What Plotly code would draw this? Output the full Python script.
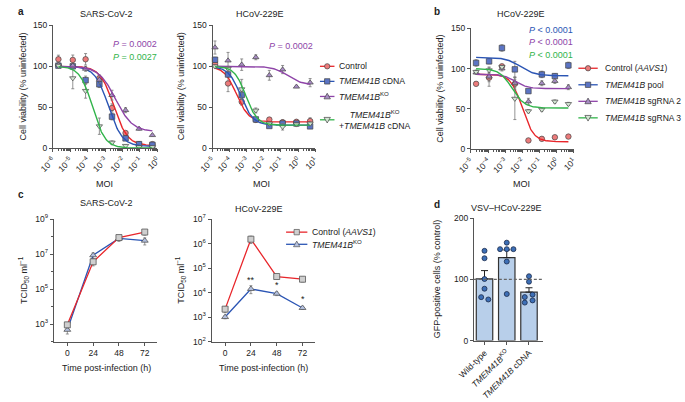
import numpy as np
import plotly.graph_objects as go

W, H = 685, 402
FONT = "Liberation Sans, Arial, sans-serif"

RED, BLUE, PURPLE, GREEN = "#e8262b", "#2b55b4", "#8e44a8", "#32b44b"
INK = "#222222"
AXIS = "#555555"

# ---------- a (left): SARS-CoV-2 dose response ----------
moi_a1 = [2.1e-6, 1.4e-5, 7.6e-5, 4.7e-4, 2.5e-3, 1.5e-2, 8.9e-2, 5.2e-1]
a1_ctrl = [108.6, 107.8, 108.6, 85.5, 49.0, 18.4, 4.7, 4.7]
a1_cdna = [100.8, 100.0, 83.0, 78.0, 38.4, 11.8, 4.7, 3.9]
a1_ko = [102.0, 100.8, 96.9, 83.5, 64.7, 46.3, 23.5, 15.7]
a1_resc = [100.8, 85.5, 70.0, 26.7, 6.7, 2.7, 1.2, 1.2]
a1_ctrl_err = [5, 6, 7, 4, 5, 2, 1.5, 1.5]
a1_cdna_err = [2, 2, 5, 4, 4, 2, 1, 1]
a1_ko_err = [2, 2, 3, 5, 6, 3, 1.5, 1]
a1_resc_err = [2, 13, 9, 10, 2, 1, 1, 1]
# fit parameters: top, bottom, log10 EC50, hill slope
a1_ctrl_fit = [100, 3, -2.5, 1.1]
a1_cdna_fit = [100, 2, -2.8, 1.1]
a1_ko_fit = [100, 20, -2.4, 0.9]
a1_resc_fit = [100, 0, -3.72, 1.2]

# ---------- a (right): HCoV-229E dose response ----------
moi_a2 = [1.4e-5, 8.1e-5, 5.1e-4, 3.4e-3, 2.1e-2, 1.26e-1, 8.1e-1, 5.1]
a2_ctrl = [103.6, 79.0, 56.5, 34.4, 34.8, 31.5, 32.0, 33.0]
a2_cdna = [108.0, 90.0, 65.0, 35.0, 27.0, 30.0, 30.0, 26.5]
a2_ko = [123.0, 107.0, 102.0, 111.0, 89.0, 96.0, 75.0, 80.0]
a2_resc = [100.0, 97.0, 72.0, 46.0, 30.0, 26.0, 29.0, 30.0]
a2_ctrl_err = [2, 10, 4, 2, 2, 3, 3, 4]
a2_cdna_err = [3, 3, 4, 2, 2, 2, 2, 2]
a2_ko_err = [8, 10, 7, 3, 6, 5, 1, 5]
a2_resc_err = [2, 3, 12, 3, 2, 4, 2, 2]
a2_ctrl_fit = [100, 32, -3.6, 1.2]
a2_cdna_fit = [100, 28, -3.35, 1.2]
a2_ko_fit = [100, 77, -0.6, 1.0]
a2_resc_fit = [100, 28, -3.05, 1.3]

# ---------- b: HCoV-229E, sgRNA lines ----------
moi_b = [2.0e-5, 1.15e-4, 6.5e-4, 3.7e-3, 2.3e-2, 1.4e-1, 8.1e-1, 5.0]
b_ctrl = [81.0, 88.6, 102.8, 81.0, 10.6, 12.6, 14.6, 15.4]
b_pool = [107.0, 109.0, 125.6, 99.0, 72.0, 92.7, 90.6, 104.0]
b_sg2 = [95.0, 90.0, 100.0, 81.7, 59.0, 81.7, 84.5, 76.8]
b_sg3 = [96.0, 98.0, 102.0, 62.6, 47.0, 49.0, 59.0, 56.0]
b_ctrl_err = [1, 5, 2, 5, 1, 1, 1, 1]
b_pool_err = [4, 3, 4, 10, 2, 4, 3, 4]
b_sg2_err = [2, 12, 3, 8, 4, 3, 3, 3]
b_sg3_err = [2, 3, 2, 26, 2, 2, 2, 2]
b_ctrl_fit = [93, 9, -2.0, 1.3]
b_pool_fit = [114, 91, -2.1, 1.0]
b_sg2_fit = [93, 75, -2.4, 1.2]
b_sg3_fit = [100, 51, -2.6, 1.2]

# ---------- c: growth curves ----------
hours = [0, 24, 48, 72]
c1_ctrl = [900, 3.6e6, 8.7e7, 1.8e8]
c1_ko = [470, 8.5e6, 7.8e7, 5.8e7]
c1_ctrl_err = [300, 1.5e6, 2.5e7, 6e7]
c1_ko_err = [200, 3e6, 2.5e7, 2.5e7]
c2_ctrl = [2100, 1.5e6, 4.5e4, 3.5e4]
c2_ko = [1000, 1.4e4, 9000, 2350]
c2_ctrl_err = [600, 5e5, 5e3, 8e3]
c2_ko_err = [150, 5e3, 1.5e3, 300]
c2_sig = ["", "**", "*", "*"]

# ---------- d: VSV-HCoV-229E ----------
d_labels = ["Wild-type", "<i>TMEM41B</i><sup>KO</sup>", "<i>TMEM41B</i> cDNA"]
d_wt = [146.5, 134.4, 100.5, 84.6, 70.9, 67.1]
d_ko = [159.8, 149.2, 149.2, 149.2, 129.0, 76.0]
d_cdna = [105.0, 96.0, 71.0, 75.0, 62.0, 65.6]
# horizontal spread of the dots inside each bar
d_wt_dx = [0, 0, 0, 0, -0.15, 0.17]
d_ko_dx = [0, -0.3, 0, 0.3, 0, 0]
d_cdna_dx = [0, 0, -0.19, 0.16, -0.19, 0.16]


def dom_x(a, b):
    return [a / W, b / W]


def dom_y(top, bottom):
    return [1 - bottom / H, 1 - top / H]


def sup(k):
    return f"10<sup>{str(k).replace('-', '−')}</sup>"


def ax_name(n):
    return "" if n == 1 else str(n)


fig = go.Figure()
shapes = []
ann = []


def txt(x, y, text, size=9, color=INK, angle=0, xanchor="center", bold=False):
    return dict(x=x / W, y=1 - y / H, xref="paper", yref="paper",
                text=f"<b>{text}</b>" if bold else text,
                showarrow=False, textangle=angle, xanchor=xanchor, yanchor="middle",
                font=dict(size=size, color=color, family=FONT))


def legend_entry(x0, x1, y, xt, label, color, symbol, fill, edge="#444", size=5.5, fs=8.7):
    # hand-placed legend key: short line, marker, label
    shapes.append(dict(type="line", xref="paper", yref="paper", x0=x0 / W, x1=x1 / W,
                       y0=1 - y / H, y1=1 - y / H, line=dict(color=color, width=1.3)))
    xc, r = (x0 + x1) / 2, size / 2
    box = dict(xref="paper", yref="paper", fillcolor=fill, line=dict(color=edge, width=0.7))
    if symbol in ("circle", "square"):
        shapes.append(dict(type="circle" if symbol == "circle" else "rect",
                           x0=(xc - r) / W, x1=(xc + r) / W,
                           y0=1 - (y + r) / H, y1=1 - (y - r) / H, **box))
    else:
        s = 1 if symbol == "triangle-up" else -1
        pts = [(xc, y - s * r * 1.2), (xc + r * 1.2, y + s * r * 0.9), (xc - r * 1.2, y + s * r * 0.9)]
        path = "M " + " L ".join(f"{px / W:.5f},{1 - py / H:.5f}" for px, py in pts) + " Z"
        shapes.append(dict(type="path", path=path, **box))
    ann.append(txt(xt, y, label, fs, xanchor="left"))


def add_dose(n, moi, vals, errs, fit, color, fill, symbol):
    a = ax_name(n)
    top, bottom, logec, slope = fit
    cx = np.logspace(np.log10(moi[0]), np.log10(moi[-1]), 150)
    cy = bottom + (top - bottom) / (1 + 10 ** (slope * (np.log10(cx) - logec)))
    mk = dict(symbol=symbol, size=5.5, color=fill, line=dict(color="#444", width=0.7))
    fig.add_trace(go.Scatter(
        x=moi, y=vals, mode="markers", marker=mk, cliponaxis=False,
        error_y=dict(type="data", array=errs, color="#777", thickness=0.8, width=1.5),
        xaxis="x" + a, yaxis="y" + a, hoverinfo="skip"))
    fig.add_trace(go.Scatter(
        x=cx, y=cy, mode="lines", line=dict(color=color, width=1.4),
        xaxis="x" + a, yaxis="y" + a, hoverinfo="skip"))


RF, BF, PF, GF = "#ec7b7b", "#5b74c4", "#a88cc4", "#d3e6d3"

add_dose(1, moi_a1, a1_ctrl, a1_ctrl_err, a1_ctrl_fit, RED, RF, "circle")
add_dose(1, moi_a1, a1_cdna, a1_cdna_err, a1_cdna_fit, BLUE, BF, "square")
add_dose(1, moi_a1, a1_ko, a1_ko_err, a1_ko_fit, PURPLE, PF, "triangle-up")
add_dose(1, moi_a1, a1_resc, a1_resc_err, a1_resc_fit, GREEN, GF, "triangle-down")

add_dose(2, moi_a2, a2_ctrl, a2_ctrl_err, a2_ctrl_fit, RED, RF, "circle")
add_dose(2, moi_a2, a2_cdna, a2_cdna_err, a2_cdna_fit, BLUE, BF, "square")
add_dose(2, moi_a2, a2_ko, a2_ko_err, a2_ko_fit, PURPLE, PF, "triangle-up")
add_dose(2, moi_a2, a2_resc, a2_resc_err, a2_resc_fit, GREEN, GF, "triangle-down")

add_dose(3, moi_b, b_ctrl, b_ctrl_err, b_ctrl_fit, RED, RF, "circle")
add_dose(3, moi_b, b_pool, b_pool_err, b_pool_fit, BLUE, BF, "square")
add_dose(3, moi_b, b_sg2, b_sg2_err, b_sg2_fit, PURPLE, PF, "triangle-up")
add_dose(3, moi_b, b_sg3, b_sg3_err, b_sg3_fit, GREEN, GF, "triangle-down")

legend_entry(313, 328, 62, 331, "Control", RED, "circle", RF)
legend_entry(313, 328, 77.5, 331, "<i>TMEM41B</i> cDNA", BLUE, "square", BF)
legend_entry(313, 328, 93, 331, "<i>TMEM41B</i><sup>KO</sup>", PURPLE, "triangle-up", PF)
legend_entry(313, 328, 117, 331, "<i>TMEM41B</i><sup>KO</sup><br>+<i>TMEM41B</i> cDNA",
             GREEN, "triangle-down", GF)

legend_entry(580, 600, 64, 605, "Control (<i>AAVS1</i>)", RED, "circle", RF, fs=8.5)
legend_entry(580, 600, 81, 605, "<i>TMEM41B</i> pool", BLUE, "square", BF, fs=8.5)
legend_entry(580, 600, 98, 605, "<i>TMEM41B</i> sgRNA 2", PURPLE, "triangle-up", PF, fs=8.5)
legend_entry(580, 600, 115, 605, "<i>TMEM41B</i> sgRNA 3", GREEN, "triangle-down", GF, fs=8.5)

CF_R, CF_B = "#cfcfcf", "#b3c0e0"


def add_growth(n, vals, errs, color, fill, symbol):
    a = ax_name(n)
    fig.add_trace(go.Scatter(
        x=hours, y=vals, mode="lines+markers", cliponaxis=False,
        line=dict(color=color, width=1.3),
        marker=dict(symbol=symbol, size=6, color=fill, line=dict(color="#555", width=0.8)),
        error_y=dict(type="data", array=errs, color="#777", thickness=0.8, width=1.5),
        xaxis="x" + a, yaxis="y" + a, hoverinfo="skip"))


add_growth(4, c1_ko, c1_ko_err, BLUE, CF_B, "triangle-up")
add_growth(4, c1_ctrl, c1_ctrl_err, RED, CF_R, "square")
add_growth(5, c2_ctrl, c2_ctrl_err, RED, CF_R, "square")
add_growth(5, c2_ko, c2_ko_err, BLUE, CF_B, "triangle-up")

legend_entry(278, 300, 232.5, 303, "Control (<i>AAVS1</i>)", RED, "square", CF_R, "#555")
legend_entry(278, 300, 245, 303, "<i>TMEM41B</i><sup>KO</sup>", BLUE, "triangle-up", CF_B, "#555")

# ---------- d bars + dots ----------
d_groups = [d_wt, d_ko, d_cdna]
d_offsets = [d_wt_dx, d_ko_dx, d_cdna_dx]
d_mean = [np.mean(g) for g in d_groups]
d_sem = [np.std(g, ddof=1) / np.sqrt(len(g)) for g in d_groups]
fig.add_trace(go.Bar(
    x=[0, 1, 2], y=d_mean, width=0.74,
    marker=dict(color="#b8cfea", line=dict(color="#333", width=1.2)),
    error_y=dict(type="data", array=d_sem, arrayminus=[0, 0, 0], symmetric=False,
                 color="#222", thickness=1, width=3.5),
    xaxis="x6", yaxis="y6", hoverinfo="skip"))
dot_x, dot_y = [], []
for i, (g, off) in enumerate(zip(d_groups, d_offsets)):
    dot_x += [i + o for o in off]
    dot_y += g
fig.add_trace(go.Scatter(
    x=dot_x, y=dot_y, mode="markers",
    marker=dict(size=5, color="#3d6fb6", line=dict(color="#1c2b4a", width=0.8)),
    xaxis="x6", yaxis="y6", hoverinfo="skip"))

# ---------- axes ----------
common = dict(showline=True, linecolor=AXIS, linewidth=1, ticks="outside", ticklen=3,
              tickcolor=AXIS, tickwidth=1, showgrid=False, zeroline=False,
              tickfont=dict(size=8.5, color=INK, family=FONT))


def log_x(lo, hi):
    return dict(type="log", range=[lo, hi], tickmode="array",
                tickvals=[10.0 ** k for k in range(lo, hi + 1)],
                ticktext=[sup(k) for k in range(lo, hi + 1)], tickangle=-45,
                minor=dict(tickmode="array", ticks="outside", ticklen=2, tickcolor=AXIS,
                           tickvals=[m * 10.0 ** k for k in range(lo, hi) for m in range(2, 10)]))


lin_y150 = dict(range=[0, 150], tickvals=[0, 50, 100, 150])
hour_x = dict(range=[-12.6, 83.7], tickvals=hours)

panels = {
    1: (dom_x(37, 145), dom_y(20, 146), log_x(-6, 0), lin_y150),
    2: (dom_x(202, 308), dom_y(20, 146), log_x(-5, 1), lin_y150),
    3: (dom_x(469, 575), dom_y(23, 147), log_x(-5, 1), lin_y150),
    4: (dom_x(38, 145), dom_y(219, 345), hour_x,
        dict(type="log", range=[2, 9], tickmode="array",
             tickvals=[10.0 ** k for k in (3, 5, 7, 9)], ticktext=[sup(k) for k in (3, 5, 7, 9)],
             minor=dict(tickmode="array", ticks="outside", ticklen=2, tickcolor=AXIS,
                        tickvals=[10.0 ** k for k in (2, 4, 6, 8)]))),
    5: (dom_x(201, 308), dom_y(219, 345), hour_x,
        dict(type="log", range=[2, 7], tickmode="array",
             tickvals=[10.0 ** k for k in range(2, 8)], ticktext=[sup(k) for k in range(2, 8)])),
    6: (dom_x(472, 543), dom_y(218, 344),
        dict(range=[-0.48, 2.61], tickvals=[0, 1, 2], ticktext=d_labels, tickangle=-45,
             tickfont=dict(size=8.5, color=INK, family=FONT)),
        dict(range=[0, 200], tickvals=[0, 100, 200])),
}
for n, (xd, yd, xkw, ykw) in panels.items():
    a = ax_name(n)
    xopt = {**common, **xkw}
    yopt = {**common, **ykw}
    fig.update_layout(**{
        "xaxis" + a: dict(domain=xd, anchor="y" + a, **xopt),
        "yaxis" + a: dict(domain=yd, anchor="x" + a, **yopt),
    })

# dashed 100 % line in d
shapes.append(dict(type="line", xref="x6 domain", yref="y6", x0=0, x1=1, y0=100, y1=100,
                   line=dict(color="#666", width=1.2, dash="3px,2px")))

# ---------- text ----------
ann += [
    txt(4, 6, "a", 10, bold=True), txt(434, 6, "b", 10, bold=True),
    txt(4, 194, "c", 10, bold=True), txt(434, 204, "d", 10, bold=True),
    txt(92, 8, "SARS-CoV-2"), txt(251, 8, "HCoV-229E"), txt(521, 8, "HCoV-229E"),
    txt(92, 203, "SARS-CoV-2"), txt(250, 209, "HCoV-229E"), txt(506, 208, "VSV–HCoV-229E"),
    txt(90, 183, "MOI"), txt(253, 183, "MOI"), txt(521, 183, "MOI"),
    txt(92, 372, "Time post-infection (h)"), txt(255, 372, "Time post-infection (h)"),
    txt(6, 83, "Cell viability (% uninfected)", angle=-90),
    txt(169, 83, "Cell viability (% uninfected)", angle=-90),
    txt(437, 85, "Cell viability (% uninfected)", angle=-90),
    txt(7, 282, "TCID<sub>50</sub> ml<sup>−1</sup>", angle=-90),
    txt(169, 282, "TCID<sub>50</sub> ml<sup>−1</sup>", angle=-90),
    txt(434, 281, "GFP-positive cells (% control)", angle=-90),
    txt(147, 39, "<i>P</i> = 0.0002", 9, PURPLE, xanchor="right"),
    txt(147, 52, "<i>P</i> = 0.0027", 9, GREEN, xanchor="right"),
    txt(308, 41, "<i>P</i> = 0.0002", 9, PURPLE, xanchor="right"),
    txt(576, 25, "<i>P</i> < 0.0001", 9, BLUE, xanchor="right"),
    txt(576, 37, "<i>P</i> < 0.0001", 9, PURPLE, xanchor="right"),
    txt(576, 50, "<i>P</i> < 0.0001", 9, GREEN, xanchor="right"),
]
for h, v, s in zip(hours, c2_ko, c2_sig):
    if s:
        ann.append(dict(x=h, y=np.log10(v), xref="x5", yref="y5", text=s, showarrow=False,
                        yshift=9, font=dict(size=9, color=INK, family=FONT)))

fig.update_layout(
    width=W, height=H, margin=dict(l=0, r=0, t=0, b=0),
    paper_bgcolor="white", plot_bgcolor="white",
    font=dict(family=FONT, size=9, color=INK),
    annotations=ann, shapes=shapes, showlegend=False,
)

# the page body has an 8px default margin; drop it so the figure sits at 0,0
fig.write_html("out.html", config={"displayModeBar": False},
               post_script="document.body.style.margin='0';")
